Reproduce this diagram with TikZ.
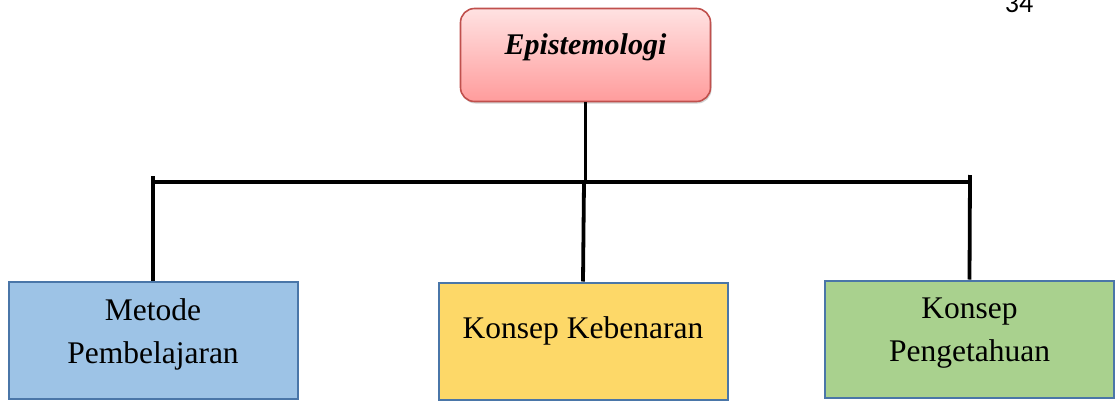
\documentclass[tikz,border=0pt]{standalone}
\usepackage{fontspec}
\setmainfont{Liberation Serif}
\newfontfamily\pagefont{Carlito}
\usetikzlibrary{shadows}
\definecolor{topborder}{HTML}{C0504D}
\definecolor{toptop}{HTML}{FFE2E2}
\definecolor{topbot}{HTML}{FF9C9C}
\definecolor{boxborder}{HTML}{4A76A8}
\definecolor{bluefill}{HTML}{9DC3E6}
\definecolor{yellowfill}{HTML}{FDD868}
\definecolor{greenfill}{HTML}{A9D18E}
\tikzset{
  conn/.style={line width=3.8pt, black},
  bar/.style={line width=3.2pt, black},
  leafbox/.style={draw=boxborder, line width=2pt, minimum width=289pt, minimum height=117pt, inner sep=0pt},
  leaftext/.style={align=center, inner sep=0pt, font=\fontsize{31.5}{43}\selectfont},
  rootbox/.style={draw=topborder, line width=1.6pt, rounded corners=14pt, top color=toptop, bottom color=topbot,
    minimum width=250pt, minimum height=93pt, inner sep=0pt, drop shadow={shadow xshift=1pt, shadow yshift=-2pt, opacity=0.35}},
  roottext/.style={inner sep=0pt, font=\fontsize{30}{36}\selectfont\bfseries\itshape}
}
\begin{document}
\begin{tikzpicture}[x=1pt,y=-1pt]
\useasboundingbox (0,0) rectangle (1117,402);
\node[rootbox] (E) at (585.5,55) {};
\node[roottext] (Et) at (585.5,47) {Epistemologi};
\node[leafbox, fill=bluefill] (M) at (153,340) {};
\node[leaftext] (Mt) at (153,334) {Metode\\Pembelajaran};
\node[leafbox, fill=yellowfill] (K) at (583,341) {};
\node[leaftext] (Kt) at (583,331) {Konsep Kebenaran};
\node[leafbox, fill=greenfill] (P) at (969.5,339) {};
\node[leaftext] (Pt) at (969.5,333) {Konsep\\Pengetahuan};
\node[font=\pagefont\fontsize{28}{32}\selectfont, anchor=base, inner sep=0pt] (pg) at (1019,12) {34};
\coordinate (bl) at (153,182);
\coordinate (br) at (970,182);
\coordinate (bm) at (584,182);
\draw[conn] (E.south) -- (E.south |- bm);
\draw[bar] (bl) -- (br);
\draw[conn] ([yshift=6pt]bl) -- (M.north);
\draw[conn] ([yshift=7pt]br) -- (P.north);
\draw[conn] (bm) -- (K.north);
\end{tikzpicture}
\end{document}
